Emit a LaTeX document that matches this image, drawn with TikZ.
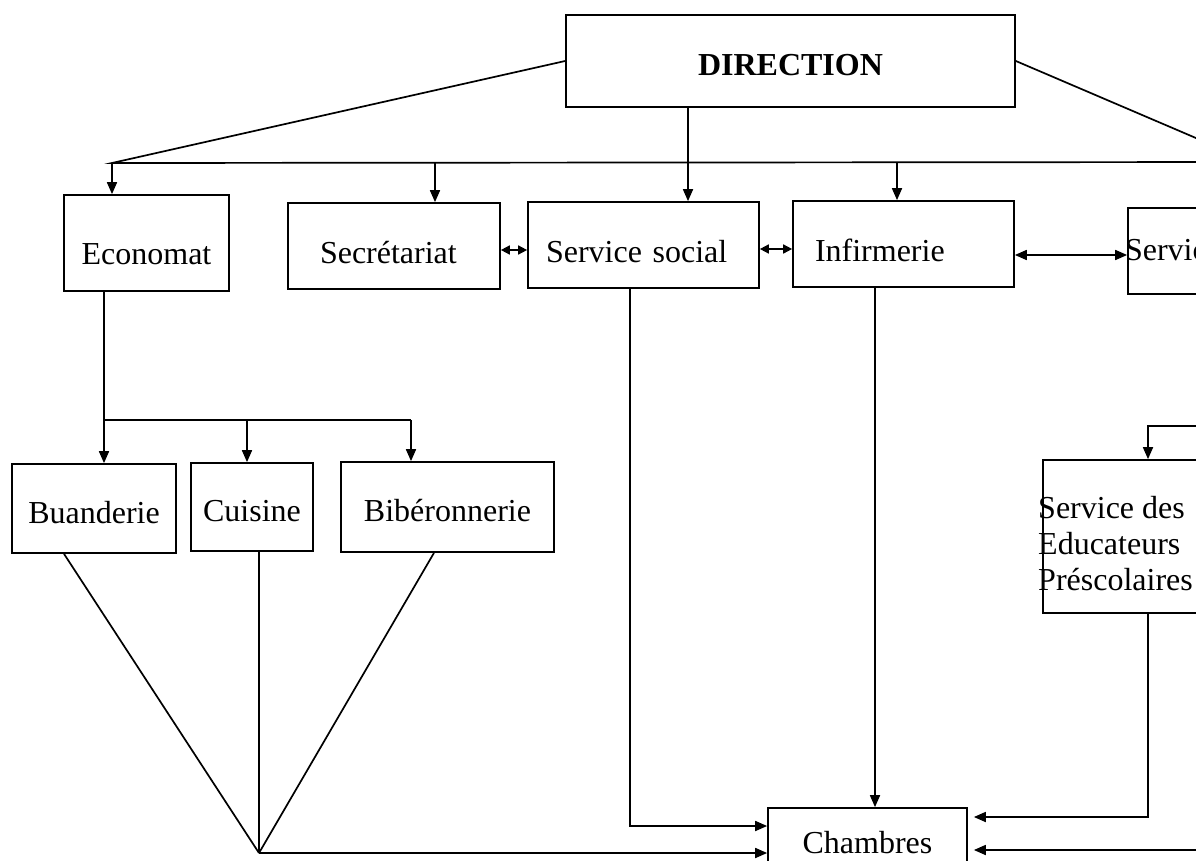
\documentclass[tikz,border=0pt]{standalone}
\usepackage{fontspec}
\setmainfont{Liberation Serif}
\usetikzlibrary{arrows.meta}
\begin{document}
\begin{tikzpicture}[x=1pt,y=-1pt,
  txt/.style={font=\fontsize{32pt}{36pt}\selectfont},
  box/.style={draw, line width=1.7pt, inner sep=0pt, text height=34pt, text depth=0pt, txt},
  conn/.style={line width=1.7pt},
  arr/.style={conn, -{Triangle[length=12pt,width=10pt]}},
  darr/.style={conn, {Triangle[length=9pt,width=9pt]}-{Triangle[length=9pt,width=9pt]}},
  darrb/.style={conn, {Triangle[length=12pt,width=10pt]}-{Triangle[length=12pt,width=10pt]}},
]
\useasboundingbox (0,0) rectangle (1196,861);
\fill[white] (0,0) rectangle (1196,861);
\clip (0,0) rectangle (1196,861);

% nodes
\node[box, minimum width=449pt, minimum height=92pt, text height=29pt, font=\fontsize{32pt}{36pt}\selectfont\bfseries] (dir) at (790.5,61) {DIRECTION};
\node[box, minimum width=165pt, minimum height=96pt, text height=42pt] (eco) at (146.5,243) {Economat};
\node[box, minimum width=212pt, minimum height=86pt, inner xsep=32pt, text width=148pt, align=left] (sec) at (394,246) {Secrétariat};
\node[box, minimum width=231pt, minimum height=86pt, inner xsep=18pt, text width=195pt, align=left] (soc) at (643.5,245) {Service social};
\node[box, minimum width=221pt, minimum height=86pt, inner xsep=22pt, text width=177pt, align=left] (inf) at (903.5,244) {Infirmerie};
\node[box, minimum width=194pt, minimum height=86pt, inner xsep=-3pt, text width=200pt, align=left, text height=18pt] (serv) at (1225,251) {Servic};
\node[box, minimum width=164pt, minimum height=89pt, text height=29pt] (bua) at (94,508.5) {Buanderie};
\node[box, minimum width=122pt, minimum height=88pt, text height=29pt] (cui) at (252,507) {Cuisine};
\node[box, minimum width=213pt, minimum height=90pt, text height=29pt] (bib) at (447.5,507) {Bibéronnerie};
\node[box, minimum width=257pt, minimum height=153pt] (edu) at (1171.5,536.5) {};
\node[txt, anchor=north west, align=left, inner sep=0pt] (edutxt) at (1038,496) {Service des\\Educateurs\\Préscolaires};
\node[box, minimum width=199pt, minimum height=68pt, text height=22pt] (ch) at (867.5,842) {Chambres};

% coordinates
\coordinate (busL) at (112,163);
\coordinate (busR) at (1252,162);
\coordinate (xsec) at (435,0);
\coordinate (xsoc) at (688,0);
\coordinate (xinf) at (897,0);
\coordinate (yss) at (0,250);
\coordinate (ysi) at (0,249);
\coordinate (yis) at (0,255);
\coordinate (ecoJ) at (104,420);
\coordinate (xcui) at (247,0);
\coordinate (xbib) at (411,0);
\coordinate (conv) at (259,853);
\coordinate (cs) at (630,826);
\coordinate (xinf2) at (875,0);
\coordinate (eduTR) at (1260,426);
\coordinate (eduT) at (1148,426);
\coordinate (eduB) at (1148,817);
\coordinate (chR) at (1260,850);

% top bus
\draw[conn] (dir.west) -- (busL) -- (busR) -- (dir.east);
\draw[arr] (busL) -- (eco.north -| busL);
\draw[arr] (busL -| xsec) -- (sec.north -| xsec);
\draw[arr] (dir.south -| xsoc) -- (soc.north -| xsoc);
\draw[arr] (busL -| xinf) -- (inf.north -| xinf);

% lateral links
\draw[darr] (sec.east |- yss) -- (soc.west |- yss);
\draw[darr] (soc.east |- ysi) -- (inf.west |- ysi);
\draw[darrb] (inf.east |- yis) -- (serv.west |- yis);

% economat subtree
\draw[conn] (eco.south -| ecoJ) -- (ecoJ) -- (ecoJ -| xbib);
\draw[arr] (ecoJ) -- (bua.north -| ecoJ);
\draw[arr] (ecoJ -| xcui) -- (cui.north -| xcui);
\draw[arr] (ecoJ -| xbib) -- (bib.north -| xbib);

% converging lines
\draw[conn] ([xshift=-30pt]bua.south) -- (conv);
\draw[conn] (cui.south -| conv) -- (conv);
\draw[conn] ([xshift=-13.5pt]bib.south) -- (conv);
\draw[arr] (conv) -- (conv -| ch.west);

% to chambres
\draw[arr] (soc.south -| cs) -- (cs) -- (cs -| ch.west);
\draw[arr] (inf.south -| xinf2) -- (ch.north -| xinf2);

% educateurs
\draw[arr] (eduTR) -- (eduT) -- (edu.north -| eduT);
\draw[arr, shorten >=6pt] (edu.south -| eduB) -- (eduB) -- (eduB -| ch.east);
\draw[arr, shorten >=6pt] (chR) -- (chR -| ch.east);
\end{tikzpicture}
\end{document}
